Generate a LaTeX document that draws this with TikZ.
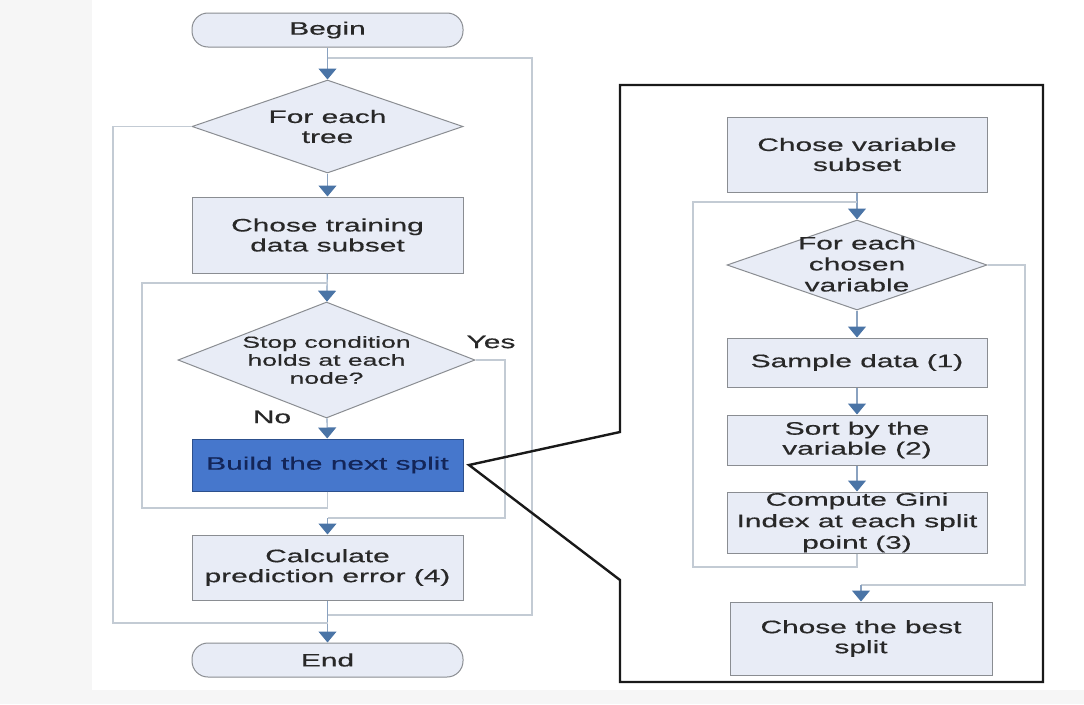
\documentclass[tikz,border=0pt]{standalone}
\usepackage{fontspec}
\setmainfont{Liberation Sans}[FakeStretch=1.66,FakeBold=0.5]
\usetikzlibrary{shapes.geometric,arrows.meta}

\definecolor{boxfill}{HTML}{E8ECF6}
\definecolor{boxline}{HTML}{8A8D92}
\definecolor{txt}{HTML}{282828}
\definecolor{linec}{HTML}{C3CBD4}
\definecolor{flowc}{HTML}{8AA2C0}
\definecolor{arrowc}{HTML}{4A74A6}
\definecolor{buildfill}{HTML}{4677CC}
\definecolor{buildline}{HTML}{2C4F8C}
\definecolor{buildtxt}{HTML}{132558}
\definecolor{margin}{HTML}{F6F6F6}

\tikzset{
  box/.style={draw=boxline, fill=boxfill, line width=1pt, inner sep=0pt,
    align=center, text=txt, font=\fontsize{18}{20}\selectfont},
  term/.style={box, rounded corners=16pt, minimum width=271pt, minimum height=34pt},
  decision/.style={draw=boxline, fill=boxfill, line width=1pt, diamond, inner sep=0pt},
  lbl/.style={align=center, text=txt, inner sep=0pt, font=\fontsize{18}{20}\selectfont},
  link/.style={draw=linec, line width=1.2pt},
  flow/.style={draw=flowc, line width=1.2pt,
    -{Triangle[width=18pt,length=11pt,color=arrowc]}},
  panel/.style={draw=black!90, line width=2.4pt, line join=miter},
}

\begin{document}
\begin{tikzpicture}[x=1pt,y=-1pt]
\useasboundingbox (0,0) rectangle (1084,704);
\fill[margin] (0,0) rectangle (1084,704);
\fill[white] (92,0) rectangle (1084,690);

% ---------- main loop over trees ----------
\node[term] (begin) at (327.5,30) {Begin};
\node[decision, minimum width=271pt, minimum height=93pt] (tree) at (327.5,126.5) {};
\node[lbl] (tree-t) at (tree) {For each\\tree};
\node[box, minimum width=271pt, minimum height=76pt] (train) at (327.5,235) {Chose training\\data subset};
\node[decision, minimum width=297pt, minimum height=116pt] (stop) at (326.5,360) {};
\node[lbl, font=\fontsize{16}{18}\selectfont] (stop-t) at (stop) {Stop condition\\holds at each\\node?};
\node[box, fill=buildfill, draw=buildline, text=buildtxt, minimum width=271pt, minimum height=52pt] (build) at (327.5,465) {Build the next split};
\node[box, minimum width=271pt, minimum height=65pt] (calc) at (327.5,567.5) {Calculate\\prediction error (4)};
\node[term] (end) at (327.5,660) {End};

\node[lbl] (no) at (272,417) {No};
\node[lbl] (yes) at (491,342) {Yes};

\coordinate (j0) at (327.5,58);
\coordinate (j1) at (327.5,283);
\coordinate (m2) at (327.5,518);
\coordinate (m3) at (327.5,615);
\coordinate (m4) at (327.5,623);

\draw[flow] (begin) -- (tree);
\draw[flow] (tree) -- (train);
\draw[flow] (train) -- (stop);
\draw[flow] (stop) -- (build);
\draw[link] (build.south) |- (142,508) |- (j1);
\draw[link] (stop.east) -| (505,518) -- (m2);
\draw[flow] (m2) -- (calc.north);
\draw[flow] (calc) -- (end);
\draw[link] (m3) -| (532,58) -- (j0);
\draw[link] (tree.west) -| (113,623) -- (m4);

% ---------- detail of the split step ----------
\coordinate (tip) at (469,465);
\draw[panel] (tip) -- (620,432) -- (620,85) -- (1043,85) -- (1043,682) -- (620,682) -- (620,580) -- cycle;

\node[box, minimum width=260pt, minimum height=75pt] (varsub) at (857,154.5) {Chose variable\\subset};
\node[decision, minimum width=260pt, minimum height=90pt] (cv) at (857,265) {};
\node[lbl, font=\fontsize{18}{21}\selectfont] (cv-t) at (857,264) {For each\\chosen\\variable};
\node[box, minimum width=260pt, minimum height=49pt] (sample) at (857,362.5) {Sample data (1)};
\node[box, minimum width=260pt, minimum height=50pt] (sort) at (857,440) {Sort by the\\variable (2)};
\node[box, minimum width=260pt, minimum height=61pt, font=\fontsize{18}{21.5}\selectfont] (gini) at (857,522.5) {Compute Gini\\Index at each split\\point (3)};
\node[box, minimum width=262pt, minimum height=73pt] (best) at (861,638.5) {Chose the best\\split};

\coordinate (k1) at (857,202);
\coordinate (k2) at (861,585);

\draw[flow] (varsub) -- (cv);
\draw[flow] (cv) -- (sample);
\draw[flow] (sample) -- (sort);
\draw[flow] (sort) -- (gini);
\draw[link] (gini.south) |- (693,567) |- (k1);
\draw[link] (cv.east) -| (1025,585) -- (k2);
\draw[flow] (k2) -- (best.north);
\end{tikzpicture}
\end{document}
